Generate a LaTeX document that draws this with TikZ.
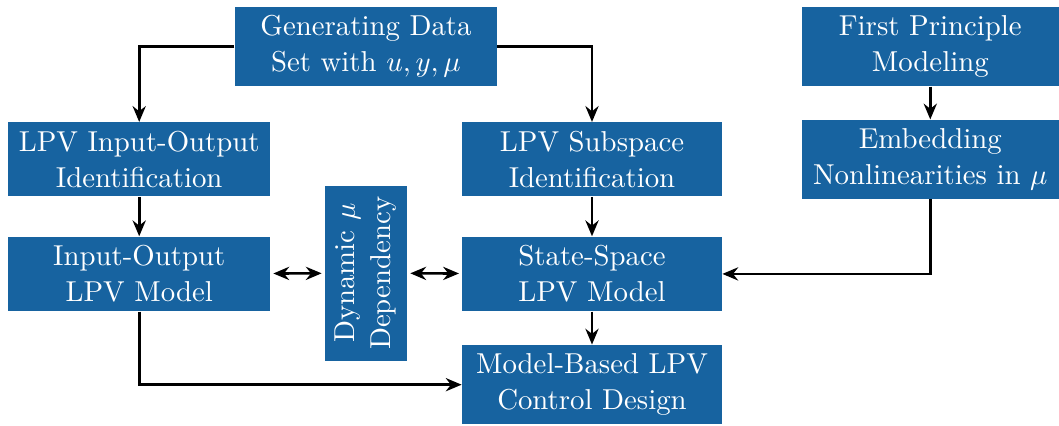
\documentclass[tikz,border=0pt]{standalone}
\usepackage{amsmath}
\usepackage{tikz}
\usetikzlibrary{arrows.meta}
\definecolor{lpvblue}{HTML}{1763A0}
\tikzset{
	block/.style={fill=lpvblue, text=white, align=center, font=\fontsize{10.95}{13.6}\selectfont},
	conn/.style={line width=1pt, -{Stealth[length=6pt, width=5pt]}},
	biconn/.style={line width=1pt, {Stealth[length=6pt, width=5pt]}-{Stealth[length=6pt, width=5pt]}, shorten <=1pt, shorten >=1pt}
}

\begin{document}
\begin{tikzpicture}
	\useasboundingbox (0,0) rectangle (14.15,-5.68);
	\node[block, minimum width=3.50cm] (gen) at (4.89, -0.62) {Generating Data\\Set with \(u, y, \mu\)};
	\node[block, minimum width=3.50cm] (ioid) at (1.86, -2.13) {LPV Input-Output\\Identification};
	\node[block, minimum width=3.47cm] (subid) at (7.91, -2.13) {LPV Subspace\\Identification};
	\node[block, minimum width=3.43cm] (fp) at (12.43, -0.62) {First Principle\\Modeling};
	\node[block, minimum width=3.43cm] (emb) at (12.43, -2.13) {Embedding\\Nonlinearities in \(\mu\)};
	\node[block, minimum width=3.50cm] (iomodel) at (1.86, -3.66) {Input-Output\\LPV Model};
	\node[block, rotate=90, minimum width=2.34cm, minimum height=1.10cm] (dyn) at (4.89, -3.65) {Dynamic \(\mu\)\\Dependency};
	\node[block, minimum width=3.47cm] (ssmodel) at (7.91, -3.66) {State-Space\\LPV Model};
	\node[block, minimum width=3.47cm] (mbc) at (7.91, -5.14) {Model-Based LPV\\Control Design};
	\draw[conn] (gen.west) -| (ioid.north);
	\draw[conn] (gen.east) -| (subid.north);
	\draw[conn] (fp) -- (emb);
	\draw[conn] (emb.south) |- (ssmodel.east);
	\draw[conn] (ioid) -- (iomodel);
	\draw[conn] (subid) -- (ssmodel);
	\draw[conn] (ssmodel) -- (mbc);
	\draw[conn] (iomodel.south) |- (mbc.west);
	\draw[biconn] (iomodel) -- (dyn);
	\draw[biconn] (dyn) -- (ssmodel);
\end{tikzpicture}
\end{document}
